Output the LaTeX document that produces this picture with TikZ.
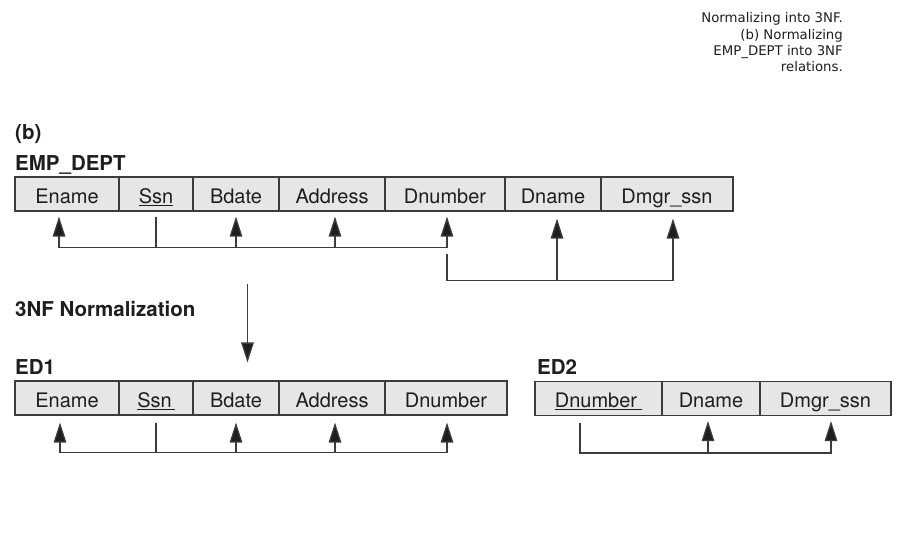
\documentclass[tikz,border=0pt]{standalone}
\usepackage{fontspec}
\setmainfont{TeX Gyre Heros}
\newfontfamily\capfont{DejaVu Sans}
\usetikzlibrary{arrows.meta}
\definecolor{cellfill}{RGB}{230,230,230}
\definecolor{linegray}{RGB}{60,60,60}
\definecolor{txt}{RGB}{30,30,30}
\tikzset{
  cell/.style={draw=linegray, line width=1.1pt, fill=cellfill, minimum height=34pt,
    inner sep=0pt, text height=19pt, text depth=1pt, text=txt,
    font=\fontsize{20}{23}\selectfont},
  lbl/.style={anchor=base west, inner sep=0pt, text=txt,
    font=\fontsize{20.5}{23}\selectfont\bfseries},
  conn/.style={draw=linegray, line width=1.3pt},
  arr/.style={conn, -{Triangle[length=20pt,width=12.5pt,fill=txt]}},
}
\begin{document}
\begin{tikzpicture}[x=1pt,y=-1pt]
\useasboundingbox (0,0) rectangle (909,536);
% caption
\node[anchor=north east, align=right, inner sep=0pt, text=txt,
  font=\capfont\fontsize{13.3}{16.2}\selectfont] (cap) at (843,12.6)
  {Normalizing into 3NF.\\(b) Normalizing\\EMP\_DEPT into 3NF\\relations.};
% labels
\node[lbl] (lb) at (15,139) {(b)};
\node[lbl] (lemp) at (15,170) {EMP\_DEPT};
\node[lbl] (lnorm) at (15,316) {3NF Normalization};
\node[lbl] (led1) at (15,374) {ED1};
\node[lbl] (led2) at (537,374) {ED2};
% EMP_DEPT
\node[cell, minimum width=104pt] (e1) at (67,194) {Ename};
\node[cell, minimum width=74pt]  (s1) at (156,194) {\underline{Ssn}};
\node[cell, minimum width=86pt]  (b1) at (236,194) {Bdate};
\node[cell, minimum width=106pt] (a1) at (332,194) {Address};
\node[cell, minimum width=120pt] (d1) at (445,194) {Dnumber};
\node[cell, minimum width=96pt]  (n1) at (553,194) {Dname};
\node[cell, minimum width=132pt] (m1) at (667,194) {Dmgr\_ssn};
% ED1
\node[cell, minimum width=104pt] (e2) at (67,398) {Ename};
\node[cell, minimum width=74pt]  (s2) at (156,398) {\underline{Ssn\hspace{3pt}}};
\node[cell, minimum width=86pt]  (b2) at (236,398) {Bdate};
\node[cell, minimum width=106pt] (a2) at (332,398) {Address};
\node[cell, minimum width=122pt] (d2) at (446,398) {Dnumber};
% ED2
\node[cell, minimum width=127pt] (d3) at (598.5,398.5) {\underline{Dnumber\hspace{5pt}}};
\node[cell, minimum width=98pt]  (n3) at (711,398.5) {Dname};
\node[cell, minimum width=131pt] (m3) at (825.5,398.5) {Dmgr\_ssn};
% EMP_DEPT FDs (Ssn -> rest)
\draw[arr] ([yshift=-5pt]s1.south) |- ([xshift=-8pt,yshift=-36pt]e1.south) -- ([xshift=-8pt,yshift=-5pt]e1.south);
\draw[arr] ([yshift=-5pt]s1.south) |- ([xshift=2pt,yshift=-36pt]d1.south) -- ([xshift=2pt,yshift=-5pt]d1.south);
\draw[arr] ([yshift=-36pt]b1.south) -- ([yshift=-5pt]b1.south);
\draw[arr] ([xshift=3pt,yshift=-36pt]a1.south) -- ([xshift=3pt,yshift=-5pt]a1.south);
% Dnumber -> Dname, Dmgr_ssn
\draw[arr] ([xshift=2pt,yshift=-42pt]d1.south) |- ([xshift=6pt,yshift=-69pt]m1.south) -- ([xshift=6pt,yshift=-7pt]m1.south);
\draw[arr] ([xshift=4pt,yshift=-69pt]n1.south) -- ([xshift=4pt,yshift=-7pt]n1.south);
% main arrow
\draw[arr] ([xshift=11.5pt,yshift=-72pt]b1.south) -- ([xshift=11.5pt,yshift=18pt]b2.north);
% ED1 FDs
\draw[arr] ([yshift=-7pt]s2.south) |- ([xshift=-7pt,yshift=-37pt]e2.south) -- ([xshift=-7pt,yshift=-7pt]e2.south);
\draw[arr] ([yshift=-7pt]s2.south) |- ([xshift=1pt,yshift=-37pt]d2.south) -- ([xshift=1pt,yshift=-7pt]d2.south);
\draw[arr] ([yshift=-37pt]b2.south) -- ([yshift=-7pt]b2.south);
\draw[arr] ([xshift=3pt,yshift=-37pt]a2.south) -- ([xshift=3pt,yshift=-7pt]a2.south);
% ED2 FDs
\draw[arr] ([xshift=-18.5pt,yshift=-7pt]d3.south) |- ([xshift=5.5pt,yshift=-37pt]m3.south) -- ([xshift=5.5pt,yshift=-5pt]m3.south);
\draw[arr] ([xshift=-3pt,yshift=-37pt]n3.south) -- ([xshift=-3pt,yshift=-5pt]n3.south);
\end{tikzpicture}
\end{document}
